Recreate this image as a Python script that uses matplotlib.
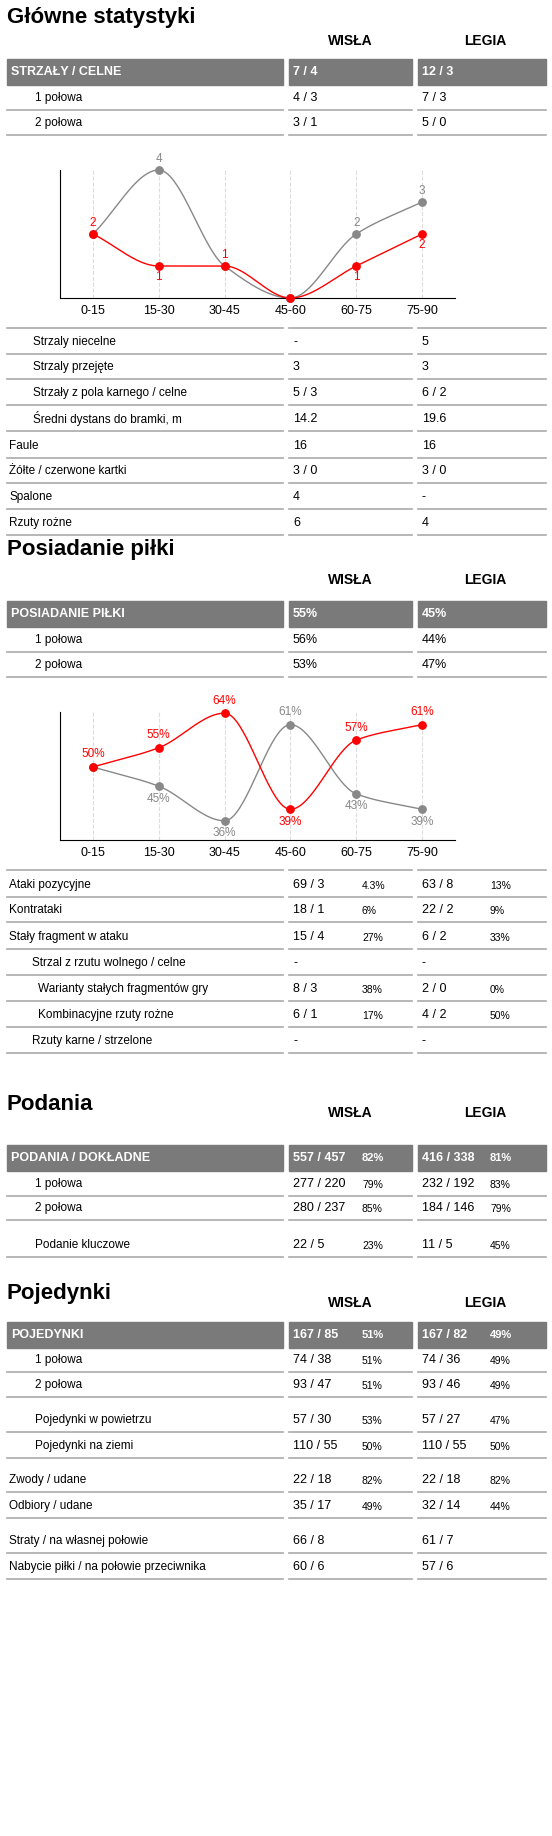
import numpy as np
import matplotlib
matplotlib.use("Agg")
import matplotlib.pyplot as plt
from matplotlib.patches import Rectangle

plt.rcParams['font.family'] = ['Liberation Sans Narrow', 'Liberation Sans', 'DejaVu Sans']

W, H = 552, 1836
GRAY = "#7a7a7a"
LINE = "#aaaaaa"
RED = "#ff0000"
LGRAY = "#888888"

# --- data ---
periods = ["0-15", "15-30", "30-45", "45-60", "60-75", "75-90"]
shots_legia = [2, 4, 1, 0, 2, 3]
shots_wisla = [2, 1, 1, 0, 1, 2]
poss_wisla = [50, 55, 64, 39, 57, 61]
poss_legia = [50, 45, 36, 61, 43, 39]

# rows: (y, label, indent, wisla, wisla_pct, legia, legia_pct)
shots_rows = [
    (98, "1 połowa", 35, "4 / 3", "", "7 / 3", ""),
    (123, "2 połowa", 35, "3 / 1", "", "5 / 0", ""),
]
shots_more = [
    (342, "Strzaly niecelne", 33, "-", "", "5", ""),
    (367, "Strzaly przejęte", 33, "3", "", "3", ""),
    (393, "Strzały z pola karnego / celne", 33, "5 / 3", "", "6 / 2", ""),
    (419, "Średni dystans do bramki, m", 33, "14.2", "", "19.6", ""),
    (446, "Faule", 9, "16", "", "16", ""),
    (471, "Żółte / czerwone kartki", 9, "3 / 0", "", "3 / 0", ""),
    (497, "Spalone", 9, "4", "", "-", ""),
    (523, "Rzuty rożne", 9, "6", "", "4", ""),
]
poss_rows = [
    (640, "1 połowa", 35, "56%", "", "44%", ""),
    (665, "2 połowa", 35, "53%", "", "47%", ""),
]
attack_rows = [
    (885, "Ataki pozycyjne", 9, "69 / 3", "4.3%", "63 / 8", "13%"),
    (910, "Kontrataki", 9, "18 / 1", "6%", "22 / 2", "9%"),
    (937, "Stały fragment w ataku", 9, "15 / 4", "27%", "6 / 2", "33%"),
    (963, "Strzal z rzutu wolnego / celne", 32, "-", "", "-", ""),
    (989, "Warianty stałych fragmentów gry", 38, "8 / 3", "38%", "2 / 0", "0%"),
    (1015, "Kombinacyjne rzuty rożne", 38, "6 / 1", "17%", "4 / 2", "50%"),
    (1041, "Rzuty karne / strzelone", 32, "-", "", "-", ""),
]
pass_rows = [
    (1184, "1 połowa", 35, "277 / 220", "79%", "232 / 192", "83%"),
    (1208, "2 połowa", 35, "280 / 237", "85%", "184 / 146", "79%"),
    (1245, "Podanie kluczowe", 35, "22 / 5", "23%", "11 / 5", "45%"),
]
duel_rows = [
    (1360, "1 połowa", 35, "74 / 38", "51%", "74 / 36", "49%"),
    (1385, "2 połowa", 35, "93 / 47", "51%", "93 / 46", "49%"),
    (1420, "Pojedynki w powietrzu", 35, "57 / 30", "53%", "57 / 27", "47%"),
    (1446, "Pojedynki na ziemi", 35, "110 / 55", "50%", "110 / 55", "50%"),
    (1480, "Zwody / udane", 9, "22 / 18", "82%", "22 / 18", "82%"),
    (1506, "Odbiory / udane", 9, "35 / 17", "49%", "32 / 14", "44%"),
    (1541, "Straty / na własnej połowie", 9, "66 / 8", "", "61 / 7", ""),
    (1567, "Nabycie piłki / na połowie przeciwnika", 9, "60 / 6", "", "57 / 6", ""),
]

fig = plt.figure(figsize=(W / 100, H / 100), dpi=100)
ax = fig.add_axes([0, 0, 1, 1])
ax.set_xlim(0, W)
ax.set_ylim(H, 0)
ax.axis("off")

COLS = [(7, 283), (289, 412), (418, 546)]


def rule(y):
    for x0, x1 in COLS:
        ax.plot([x0, x1], [y, y], color=LINE, lw=1.2)


def title(y, txt, team_y):
    ax.text(7, y, txt, fontsize=16, fontweight="bold", va="center")
    ax.text(350, team_y, "WISŁA", fontsize=10, fontweight="bold", ha="center", va="center")
    ax.text(485, team_y, "LEGIA", fontsize=10, fontweight="bold", ha="center", va="center")


def header(y, label, w, wp, l, lp):
    for x0, x1 in COLS:
        ax.add_patch(Rectangle((x0, y - 13), x1 - x0, 26, color=GRAY))
    kw = dict(fontsize=9, fontweight="bold", color="white", va="center")
    ax.text(11, y, label, **kw)
    ax.text(293, y, w, **kw)
    ax.text(422, y, l, **kw)
    ax.text(362, y, wp, fontsize=8, fontweight="bold", color="white", va="center")
    ax.text(490, y, lp, fontsize=8, fontweight="bold", color="white", va="center")


def rows(data):
    for y, lab, ind, w, wp, l, lp in data:
        ax.text(ind, y, lab, fontsize=8.5, va="center")
        ax.text(293, y, w, fontsize=9, va="center")
        ax.text(422, y, l, fontsize=9, va="center")
        ax.text(362, y + 1, wp, fontsize=7.5, va="center")
        ax.text(490, y + 1, lp, fontsize=7.5, va="center")
        rule(y + 12)


def smooth(xs, ys, n=40):
    # monotone cubic (Fritsch-Carlson) for drawing
    xs = np.asarray(xs, float)
    ys = np.asarray(ys, float)
    d = np.diff(ys) / np.diff(xs)
    m = np.zeros_like(ys)
    m[0], m[-1] = d[0], d[-1]
    for i in range(1, len(ys) - 1):
        m[i] = 0 if d[i - 1] * d[i] <= 0 else 2 / (1 / d[i - 1] + 1 / d[i])
    px, py = [], []
    for i in range(len(xs) - 1):
        h = xs[i + 1] - xs[i]
        t = np.linspace(0, 1, n)
        h00 = 2 * t**3 - 3 * t**2 + 1
        h10 = t**3 - 2 * t**2 + t
        h01 = -2 * t**3 + 3 * t**2
        h11 = t**3 - t**2
        px.extend(xs[i] + t * h)
        py.extend(h00 * ys[i] + h10 * h * m[i] + h01 * ys[i + 1] + h11 * h * m[i + 1])
    return px, py


def chart(top, bottom, red, grey, ylim, fmt, red_above, grey_above, off):
    cax = fig.add_axes([60 / W, 1 - bottom / H, (455 - 60) / W, (bottom - top) / H])
    xs = np.arange(len(periods))
    cax.set_xlim(-0.5, len(periods) - 0.5)
    cax.set_ylim(*ylim)
    for x in xs:
        cax.axvline(x, color="#dddddd", lw=0.8, ls="--", zorder=0)
    for vals, col, above in ((grey, LGRAY, grey_above), (red, RED, red_above)):
        sx, sy = smooth(xs, vals)
        cax.plot(sx, sy, color=col, lw=1, clip_on=False)
        cax.scatter(xs, vals, color=col, s=28, zorder=3, clip_on=False)
        for x, v, a in zip(xs, vals, above):
            if a is None:
                continue
            cax.annotate(fmt(v), (x, v), xytext=(0, off if a else -off), textcoords="offset points",
                         ha="center", va="center", color=col, fontsize=8.5, annotation_clip=False)
    cax.set_xticks(xs)
    cax.set_xticklabels(periods, fontsize=9)
    cax.set_yticks([])
    cax.tick_params(axis="x", length=0, pad=5)
    for s in ("top", "right"):
        cax.spines[s].set_visible(False)
    cax.set_facecolor("none")


# Section 1
title(18, "Główne statystyki", 41)
header(72, "STRZAŁY / CELNE", "7 / 4", "", "12 / 3", "")
rows(shots_rows)
chart(170, 298, shots_wisla, shots_legia, (0, 4), lambda v: f"{v}",
      [True, False, True, None, False, False], [None, True, None, None, True, True], 8)
rule(328)
rows(shots_more)

# Section 2
title(550, "Posiadanie piłki", 580)
header(614, "POSIADANIE PIŁKI", "55%", "", "45%", "")
rows(poss_rows)
chart(712, 840, poss_wisla, poss_legia, (31, 64.3), lambda v: f"{v}%",
      [True, True, True, False, True, True], [None, False, False, True, False, False], 9)
rule(870)
rows(attack_rows)

# Section 3
title(1105, "Podania", 1113)
header(1158, "PODANIA / DOKŁADNE", "557 / 457", "82%", "416 / 338", "81%")
rows(pass_rows)

# Section 4
title(1293, "Pojedynki", 1303)
header(1335, "POJEDYNKI", "167 / 85", "51%", "167 / 82", "49%")
rows(duel_rows)

fig.savefig("out.png", dpi=100)
